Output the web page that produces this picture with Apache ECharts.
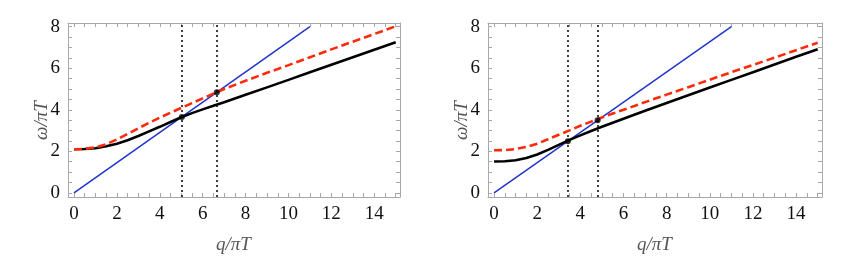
<!DOCTYPE html>
<html><head><meta charset="utf-8">
<script src="https://cdn.jsdelivr.net/npm/echarts@6/dist/echarts.min.js"></script>
<style>html,body{margin:0;padding:0;background:#fff}#c{width:844px;height:269px}</style>
</head><body><div id="c"></div>
<script>
// q / pi T sample points
const qValues = [0,0.5,1,1.5,2,2.5,3,3.5,4,4.5,5,5.5,6,6.5,7,8,9,10,11,12,13,14,15];
// left panel
const blackLeft = [2.10,2.11,2.15,2.24,2.37,2.53,2.74,2.96,3.18,3.41,3.64,3.84,4.02,4.19,4.36,4.72,5.08,5.44,5.81,6.17,6.53,6.89,7.25];
const redLeft   = [2.10,2.12,2.19,2.34,2.57,2.84,3.11,3.37,3.62,3.86,4.09,4.32,4.55,4.78,5.00,5.40,5.78,6.15,6.53,6.91,7.28,7.65,8.02];
// right panel
const blackRight = [1.51,1.52,1.57,1.68,1.85,2.07,2.31,2.55,2.77,2.98,3.18,3.38,3.57,3.76,3.95,4.33,4.70,5.07,5.44,5.81,6.18,6.55,6.92];
const redRight   = [2.05,2.06,2.11,2.21,2.37,2.58,2.80,3.01,3.23,3.43,3.63,3.82,4.00,4.18,4.37,4.73,5.09,5.45,5.81,6.16,6.51,6.87,7.23];
// light-cone line
const blueQ = [0, 11];
const blueW = [0, 8];
// vertical dotted markers and intersection dots
const vLinesLeft = [5.03, 6.66];
const vLinesRight = [3.42, 4.80];
const dotsLeftQ = [5.03, 6.66];
const dotsLeftW = [3.65, 4.85];
const dotsRightQ = [3.42, 4.80];
const dotsRightW = [2.49, 3.50];
// tick labels and tick marks
const xTickLabels = [0,2,4,6,8,10,12,14];
const yTickLabels = [0,2,4,6,8];
const xTickMarks = [0,0.5,1,1.5,2,2.5,3,3.5,4,4.5,5,5.5,6,6.5,7,7.5,8,8.5,9,9.5,10,10.5,11,11.5,12,12.5,13,13.5,14,14.5,15];
const yTickMarks = [0,0.5,1,1.5,2,2.5,3,3.5,4,4.5,5,5.5,6,6.5,7,7.5,8];

const X_MIN = -0.28, X_MAX = 15.2, Y_MIN = -0.2, Y_MAX = 8.18;
const FRAME = '#a8a8a8';
const SERIF = 'Liberation Serif';
const tickFont = {fontFamily:SERIF, fontSize:19, color:'#111'};

function zip(a,b){ return a.map((v,i)=>[v,b[i]]); }

function axis(dim, g, pos, withLabel){
  const isX = dim === 'x';
  return {
    type:'value', gridIndex:g, position:pos,
    min: isX ? X_MIN : Y_MIN, max: isX ? X_MAX : Y_MAX,
    axisLine:{show:true, onZero:false, lineStyle:{color:FRAME, width:1}},
    splitLine:{show:false},
    axisTick:{show:true, inside:true, length:4, customValues: isX ? xTickMarks : yTickMarks},
    axisLabel:{show:withLabel, customValues: isX ? xTickLabels : yTickLabels,
      fontFamily:SERIF, fontSize:19, color:'#111',
      formatter: function(v){ return '{t|' + v + '}'; },
      rich:{t: Object.assign({}, tickFont)}}
  };
}

function panelSeries(ai, black, red, vlines, dq, dw){
  return [
    {type:'line', xAxisIndex:ai, yAxisIndex:ai, data:zip(blueQ, blueW), showSymbol:false,
      lineStyle:{color:'#1f35cc', width:1.5}, z:3,
      markLine:{silent:true, symbol:['none','none'], label:{show:false},
        lineStyle:{color:'#000', width:1.5, type:[2,3]},
        data:vlines.map(v=>({xAxis:v}))}},
    {type:'line', xAxisIndex:ai, yAxisIndex:ai, data:zip(qValues, black), showSymbol:false,
      lineStyle:{color:'#000', width:2.6}, z:4},
    {type:'line', xAxisIndex:ai, yAxisIndex:ai, data:zip(qValues, red), showSymbol:false,
      lineStyle:{color:'#ff2a0a', width:2.6, type:[8,4]}, z:5},
    {type:'scatter', xAxisIndex:ai, yAxisIndex:ai, data:zip(dq, dw), symbolSize:6,
      itemStyle:{color:'#000'}, z:6}
  ];
}

const nameStyle = {fontFamily:SERIF, fontStyle:'italic', fontSize:19, fill:'#555'};
function axisTitles(left, width){
  return [
    {type:'text', left: left + width/2 - 18, top: 235, style: Object.assign({text:'q/πT'}, nameStyle)},
    {type:'text', x: left - 36, y: 140, rotation: Math.PI/2, style: Object.assign({text:'ω/πT'}, nameStyle)}
  ];
}

const chart = echarts.init(document.getElementById('c'));
chart.setOption({
  animation:false,
  grid:[
    {left:68, top:23, width:332, height:174},
    {left:488, top:23, width:334, height:174}
  ],
  xAxis:[axis('x',0,'bottom',true), axis('x',0,'top',false), axis('x',1,'bottom',true), axis('x',1,'top',false)],
  yAxis:[axis('y',0,'left',true), axis('y',0,'right',false), axis('y',1,'left',true), axis('y',1,'right',false)],
  graphic: axisTitles(68, 332).concat(axisTitles(488, 334)),
  series: panelSeries(0, blackLeft, redLeft, vLinesLeft, dotsLeftQ, dotsLeftW)
    .concat(panelSeries(2, blackRight, redRight, vLinesRight, dotsRightQ, dotsRightW))
});
</script></body></html>
